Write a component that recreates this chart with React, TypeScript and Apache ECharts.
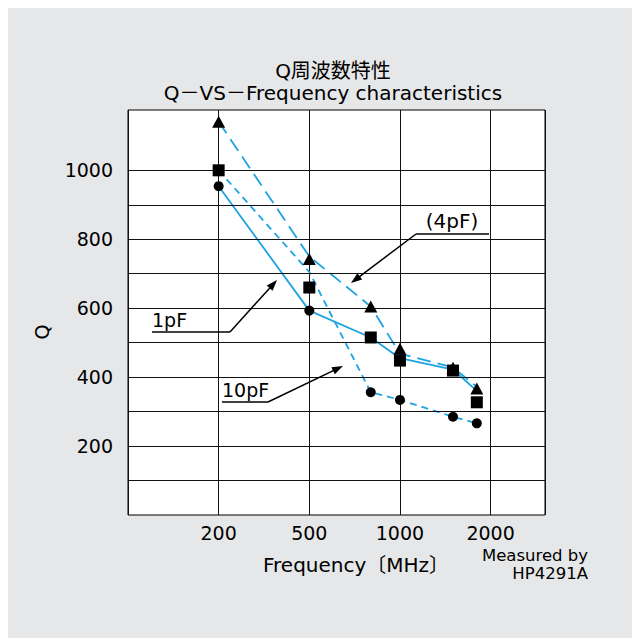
import React, { useEffect, useRef } from "react";
import * as echarts from "echarts";

// ---- data ----
const FREQS = [200, 500, 800, 1000, 1500, 1800];
const TRIANGLE_Q = [1141, 743, 605, 482, 427, 367];
const SQUARE_Q = [1000, 660, 515, 448, 419, 327];
const CIRCLE_Q = [954, 593, 356, 334, 285, 266];
const LINE_1PF = [954, 593, 515, 455, 422, 360];
const LINE_4PF = [1141, 750, 605, 468, 428, 372];
const LINE_10PF = [1000, 705, 356, 334, 285, 266];
const X_TICK_FREQS = [200, 500, 1000, 2000];
const Y_GRID_VALUES = [100, 200, 300, 400, 500, 600, 700, 800, 900, 1000];
const Y_LABEL_VALUES = [200, 400, 600, 800, 1000];

const FONT = "'DejaVu Sans', 'Noto Sans CJK JP', sans-serif";
const CYAN = "#1ba3e2";

// piecewise-log position of a frequency on the (evenly spaced) tick scale
function freqPos(f: number): number {
  const t = X_TICK_FREQS;
  let i = 0;
  while (i < t.length - 2 && f > t[i + 1]) i++;
  return i + 1 + Math.log(f / t[i]) / Math.log(t[i + 1] / t[i]);
}

const pairs = (vals: number[]) => FREQS.map((f, i) => [freqPos(f), vals[i]]);

function arrow(x1: number, y1: number, x2: number, y2: number) {
  const dx = x2 - x1;
  const dy = y2 - y1;
  const len = Math.sqrt(dx * dx + dy * dy);
  const ux = dx / len;
  const uy = dy / len;
  const hl = 11;
  const hw = 4;
  const bx = x2 - ux * hl;
  const by = y2 - uy * hl;
  return [
    {
      type: "line",
      shape: { x1, y1, x2: bx + ux * 2, y2: by + uy * 2 },
      style: { stroke: "#000", lineWidth: 1.5 },
      z: 10,
    },
    {
      type: "polygon",
      shape: {
        points: [
          [x2, y2],
          [bx - uy * hw, by + ux * hw],
          [bx + uy * hw, by - ux * hw],
        ],
      },
      style: { fill: "#000" },
      z: 10,
    },
  ];
}

function label(text: string, x: number, y: number, align: string = "left", size = 19) {
  return {
    type: "text",
    x,
    y,
    z: 10,
    style: {
      text,
      fill: "#000",
      font: `${size}px ${FONT}`,
      align,
      verticalAlign: "middle",
    },
  };
}

export default function App() {
  const ref = useRef<HTMLDivElement>(null);
  useEffect(() => {
    if (!ref.current) return;
    const chart = echarts.init(ref.current, null, { renderer: "svg" });
    const xLabelMap: Record<number, string> = {};
    X_TICK_FREQS.forEach((f, i) => (xLabelMap[i + 1] = String(f)));

    const lineSeries = (name: string, vals: number[], type: any) => ({
      name,
      type: "line",
      data: pairs(vals),
      symbol: "none",
      lineStyle: { color: CYAN, width: 1.8, type },
      z: 3,
    });
    const markerSeries = (name: string, vals: number[], symbol: string, size: any) => ({
      name,
      type: "scatter",
      data: pairs(vals),
      symbol,
      symbolSize: size,
      itemStyle: { color: "#000", opacity: 1 },
      emphasis: { disabled: true },
      z: 5,
    });

    chart.setOption({
      animation: false,
      backgroundColor: "#e6e7e8",
      grid: {
        left: 120,
        top: 102,
        width: 417,
        height: 405,
        show: true,
        backgroundColor: "#fff",
        borderColor: "#000",
        borderWidth: 1,
      },
      xAxis: {
        type: "value",
        min: 0,
        max: 4.6,
        interval: 1,
        axisLine: { show: false },
        axisTick: { show: false },
        splitLine: { show: true, lineStyle: { color: "#111", width: 1 } },
        axisLabel: {
          color: "#000",
          fontFamily: FONT,
          fontSize: 19,
          margin: 8,
          formatter: (v: number) => xLabelMap[Math.round(v * 1000) / 1000] || "",
        },
      },
      yAxis: {
        type: "value",
        min: 0,
        max: 1175,
        interval: 100,
        axisLine: { show: false },
        axisTick: { show: false },
        splitLine: { show: false },
        axisLabel: {
          color: "#000",
          fontFamily: FONT,
          fontSize: 19,
          margin: 15,
          formatter: (v: number) => (Y_LABEL_VALUES.includes(v) ? String(v) : ""),
        },
      },
      series: [
        {
          type: "line",
          data: [],
          markLine: {
            silent: true,
            symbol: "none",
            label: { show: false },
            lineStyle: { color: "#111", width: 1, type: "solid" },
            data: Y_GRID_VALUES.map((v) => ({ yAxis: v })),
          },
          z: 1,
        },
        lineSeries("1pF", LINE_1PF, "solid"),
        lineSeries("4pF", LINE_4PF, [14, 7]),
        lineSeries("10pF", LINE_10PF, [7, 5]),
        markerSeries("triangle", TRIANGLE_Q, "triangle", [13, 12]),
        markerSeries("square", SQUARE_Q, "rect", 12),
        markerSeries("circle", CIRCLE_Q, "circle", 10),
      ],
      graphic: [
        label("Q周波数特性", 325, 63, "center", 20),
        label("Q－VS－Frequency characteristics", 325, 85, "center", 20),
        {
          type: "text",
          x: 34,
          y: 324,
          rotation: Math.PI / 2,
          style: {
            text: "Q",
            fill: "#000",
            font: `19px ${FONT}`,
            align: "center",
            verticalAlign: "middle",
          },
        },
        label("Frequency〔MHz〕", 255, 557, "left", 20),
        label("Measured by", 580, 547, "right", 16.5),
        label("HP4291A", 580, 565, "right", 16.5),
        // 1pF annotation
        label("1pF", 144, 312, "left", 19),
        { type: "line", shape: { x1: 144, y1: 324, x2: 222, y2: 324 }, style: { stroke: "#000", lineWidth: 1.5 }, z: 10 },
        ...arrow(222, 324, 269, 272),
        // 10pF annotation
        label("10pF", 214, 382, "left", 19),
        { type: "line", shape: { x1: 214, y1: 394, x2: 260, y2: 394 }, style: { stroke: "#000", lineWidth: 1.5 }, z: 10 },
        ...arrow(260, 394, 335, 358),
        // (4pF) annotation
        label("(4pF)", 444, 213, "center", 20),
        { type: "line", shape: { x1: 408, y1: 226, x2: 481, y2: 226 }, style: { stroke: "#000", lineWidth: 1.5 }, z: 10 },
        ...arrow(408, 226, 343, 275),
      ],
    });
    return () => chart.dispose();
  }, []);
  return <div ref={ref} style={{ width: 632, height: 630 }} />;
}
